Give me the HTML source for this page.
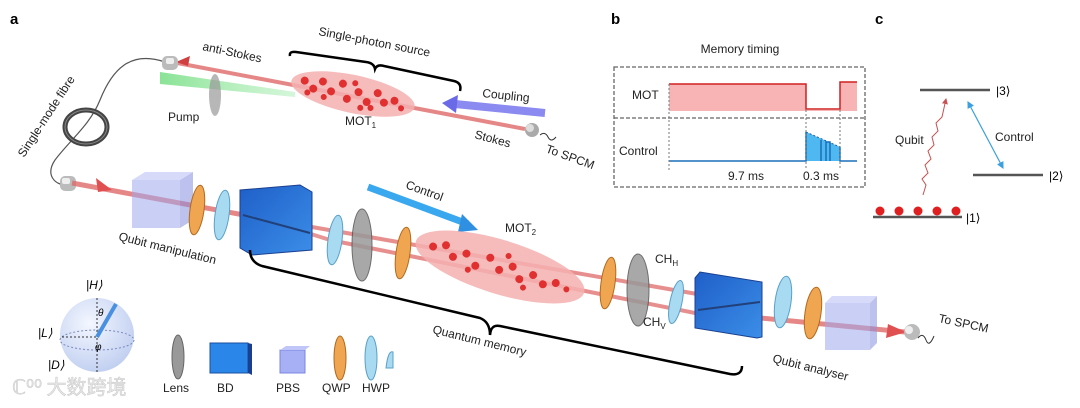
<!DOCTYPE html>
<html><head><meta charset="utf-8"><style>
html,body{margin:0;padding:0;background:#fff;}
svg{display:block;font-family:"Liberation Sans",Arial,sans-serif;}
</style></head><body>
<svg width="1080" height="408" viewBox="0 0 1080 408" xmlns="http://www.w3.org/2000/svg">
<defs>
<linearGradient id="bd" x1="0" y1="0" x2="1" y2="1"><stop offset="0" stop-color="#1f5fc8"/><stop offset="1" stop-color="#3b8ee8"/></linearGradient>
<radialGradient id="sph" cx="0.4" cy="0.35" r="0.7"><stop offset="0" stop-color="#f2f6ff"/><stop offset="1" stop-color="#b8c8ee"/></radialGradient>
<linearGradient id="gr" x1="0" y1="0" x2="1" y2="0"><stop offset="0" stop-color="#7de08a" stop-opacity="0.9"/><stop offset="1" stop-color="#b8f0c0" stop-opacity="0.6"/></linearGradient>
<marker id="ar" markerWidth="6" markerHeight="6" refX="5" refY="3" orient="auto"><path d="M0,0L6,3L0,6z" fill="#3aa0e0"/></marker>
<marker id="al" markerWidth="6" markerHeight="6" refX="1" refY="3" orient="auto"><path d="M6,0L0,3L6,6z" fill="#3aa0e0"/></marker>
<marker id="ar2" markerWidth="6" markerHeight="6" refX="5" refY="3" orient="auto"><path d="M0,0L6,3L0,6z" fill="#c85050"/></marker>
</defs>
<g font-weight="bold" font-size="15"><text x="10" y="24">a</text><text x="611" y="24">b</text><text x="875" y="24">c</text></g>

<!-- fibre -->
<path d="M165,62 C130,50 112,70 100,100 C90,125 70,140 55,160 C45,175 55,185 66,185" fill="none" stroke="#555" stroke-width="1.2"/>
<ellipse cx="86" cy="127" rx="21" ry="17" fill="none" stroke="#444" stroke-width="5"/>
<ellipse cx="86" cy="127" rx="21" ry="17" fill="none" stroke="#888" stroke-width="1"/>
<text transform="translate(24,158) rotate(-57)" font-size="12" fill="#222">Single-mode fibre</text>

<!-- top beam -->
<line x1="172" y1="62" x2="525" y2="129" stroke="#e06a6a" stroke-width="4" opacity="0.8"/>
<path d="M176,62 L190,56 L188,66z" fill="#d04040"/>
<polygon points="160,72 295,92 295,97 160,84" fill="url(#gr)"/>
<ellipse cx="215" cy="95" rx="6" ry="21" fill="#999" opacity="0.7"/>
<text x="168" y="121" font-size="12" fill="#222">Pump</text>
<text transform="translate(202,50) rotate(12)" font-size="12" fill="#222">anti-Stokes</text>
<g transform="translate(353,94) rotate(12)"><ellipse rx="63" ry="19" fill="#f5b0b0" opacity="0.85"/>
<g fill="#e03030"><circle cx="-50" cy="-3" r="4"/><circle cx="-40" cy="3" r="4"/><circle cx="-32" cy="-6" r="4"/><circle cx="-22" cy="2" r="4"/><circle cx="-12" cy="-8" r="4"/><circle cx="-5" cy="6" r="4"/><circle cx="5" cy="-3" r="4"/><circle cx="15" cy="5" r="4"/><circle cx="24" cy="-6" r="4"/><circle cx="32" cy="2" r="4"/><circle cx="42" cy="-2" r="4"/><circle cx="50" cy="4" r="3"/><circle cx="-28" cy="9" r="3"/><circle cx="0" cy="-11" r="3"/><circle cx="20" cy="10" r="3"/><circle cx="-45" cy="8" r="3"/><circle cx="10" cy="12" r="3"/></g></g>
<text x="345" y="125" font-size="12" fill="#222">MOT<tspan font-size="8" dy="3">1</tspan></text>
<path d="M290,56 Q289,51 296,52 L366,62 Q374,63 375,69 Q377,64 384,66 L454,81 Q462,83 460,91" fill="none" stroke="#000" stroke-width="2.5"/>
<text transform="translate(318,35) rotate(11)" font-size="12" fill="#222">Single-photon source</text>
<line x1="545" y1="113" x2="455" y2="104" stroke="#8a8af0" stroke-width="8"/>
<path d="M442,103 L458,95 L456,113z" fill="#6a6ae8"/>
<text transform="translate(482,97) rotate(6)" font-size="12" fill="#222">Coupling</text>
<text transform="translate(474,138) rotate(15)" font-size="12" fill="#222">Stokes</text>
<circle cx="532" cy="130" r="7" fill="#aaa"/><circle cx="530" cy="128" r="4" fill="#ddd"/>
<path d="M540,135 q5,-4 8,2 t8,0" fill="none" stroke="#333" stroke-width="1"/>
<text transform="translate(545,152) rotate(20)" font-size="12" fill="#222">To SPCM</text>
<rect x="162" y="56" width="16" height="14" rx="5" fill="#bbb"/><rect x="166" y="58" width="8" height="6" rx="2" fill="#eee"/>

<!-- bottom beam -->
<rect x="60" y="176" width="16" height="15" rx="5" fill="#bbb"/><rect x="62" y="178" width="8" height="6" rx="2" fill="#eee"/>
<line x1="72" y1="183" x2="260" y2="218" stroke="#e06a6a" stroke-width="5" opacity="0.8"/>
<line x1="260" y1="218" x2="720" y2="298" stroke="#e06a6a" stroke-width="4" opacity="0.75"/>
<line x1="260" y1="218" x2="330" y2="240" stroke="#e06a6a" stroke-width="4" opacity="0.7"/>
<line x1="330" y1="240" x2="720" y2="318" stroke="#e06a6a" stroke-width="4" opacity="0.75"/>
<line x1="740" y1="316" x2="905" y2="332" stroke="#e06a6a" stroke-width="5" opacity="0.8"/>
<path d="M888,324 L906,332 L886,338z" fill="#e05050"/>
<path d="M96,178 L112,190 L98,192z" fill="#e05050"/>
<!-- components -->
<g opacity="0.55"><rect x="132" y="180" width="48" height="48" fill="#9fa8f0"/><polygon points="132,180 145,172 193,172 180,180" fill="#b8bff5"/><polygon points="180,180 193,172 193,220 180,228" fill="#8890e0"/></g>
<ellipse cx="197" cy="210" rx="7" ry="25" fill="#f0a550" stroke="#b06a20" transform="rotate(8 197 210)"/>
<ellipse cx="222" cy="215" rx="7" ry="25" fill="#a8daf2" stroke="#5aa0c8" transform="rotate(8 222 215)"/>
<polygon points="240,190 300,185 312,192 312,250 252,255 240,248" fill="url(#bd)" stroke="#1a3f90"/>
<line x1="243" y1="215" x2="310" y2="233" stroke="#22407a" stroke-width="2"/>
<ellipse cx="335" cy="240" rx="7" ry="25" fill="#a8daf2" stroke="#5aa0c8" transform="rotate(8 335 240)"/>
<ellipse cx="362" cy="245" rx="10" ry="36" fill="#999" stroke="#555" opacity="0.85"/>
<ellipse cx="403" cy="253" rx="7" ry="26" fill="#f0a550" stroke="#b06a20" transform="rotate(8 403 253)"/>
<line x1="368" y1="187" x2="468" y2="224" stroke="#3aa8ee" stroke-width="7"/>
<path d="M478,230 L462,214 L458,232z" fill="#2f8fe0"/>
<text transform="translate(405,188) rotate(20)" font-size="12" fill="#222">Control</text>
<g transform="translate(500,267) rotate(17)"><ellipse rx="88" ry="27" fill="#f5b0b0" opacity="0.85"/>
<g fill="#e03030"><circle cx="-70" cy="0" r="4"/><circle cx="-58" cy="-5" r="4"/><circle cx="-48" cy="4" r="4"/><circle cx="-36" cy="-3" r="4"/><circle cx="-24" cy="6" r="4"/><circle cx="-12" cy="-6" r="4"/><circle cx="0" cy="3" r="4"/><circle cx="12" cy="-4" r="4"/><circle cx="22" cy="6" r="4"/><circle cx="34" cy="-2" r="4"/><circle cx="46" cy="4" r="4"/><circle cx="58" cy="-1" r="4"/><circle cx="70" cy="2" r="3"/><circle cx="-30" cy="12" r="3"/><circle cx="5" cy="-13" r="3"/><circle cx="28" cy="13" r="3"/></g></g>
<text x="505" y="232" font-size="12" fill="#222">MOT<tspan font-size="8" dy="3">2</tspan></text>
<ellipse cx="608" cy="283" rx="7" ry="26" fill="#f0a550" stroke="#b06a20" transform="rotate(8 608 283)"/>
<ellipse cx="638" cy="290" rx="11" ry="36" fill="#999" stroke="#555" opacity="0.85"/>
<ellipse cx="676" cy="302" rx="6" ry="22" fill="#a8daf2" stroke="#5aa0c8" transform="rotate(12 676 302)"/>
<text x="655" y="263" font-size="12" fill="#222">CH<tspan font-size="8" dy="3">H</tspan></text>
<text x="643" y="326" font-size="12" fill="#222">CH<tspan font-size="8" dy="3">V</tspan></text>
<polygon points="695,278 700,272 762,282 762,337 757,338 695,328" fill="url(#bd)" stroke="#1a3f90"/>
<line x1="698" y1="310" x2="760" y2="302" stroke="#22407a" stroke-width="2"/>
<ellipse cx="783" cy="302" rx="8" ry="26" fill="#a8daf2" stroke="#5aa0c8" transform="rotate(8 783 302)"/>
<ellipse cx="813" cy="313" rx="8" ry="26" fill="#f0a550" stroke="#b06a20" transform="rotate(8 813 313)"/>
<g opacity="0.55"><rect x="825" y="303" width="45" height="47" fill="#9fa8f0"/><polygon points="825,303 832,296 877,296 870,303" fill="#b8bff5"/><polygon points="870,303 877,296 877,343 870,350" fill="#8890e0"/></g>
<circle cx="912" cy="332" r="8" fill="#bbb"/><circle cx="909" cy="330" r="4" fill="#eee"/>
<path d="M918,338 q5,-6 8,2 t8,-4" fill="none" stroke="#333" stroke-width="1"/>
<text transform="translate(938,322) rotate(12)" font-size="12" fill="#222">To SPCM</text>
<text transform="translate(118,240) rotate(14)" font-size="12" fill="#222">Qubit manipulation</text>
<text transform="translate(432,333) rotate(14)" font-size="12" fill="#222">Quantum memory</text>
<text transform="translate(772,362) rotate(14)" font-size="12" fill="#222">Qubit analyser</text>
<path d="M250,250 Q250,262 262,266 L480,318 Q490,322 490,335 Q491,324 500,326 L730,374 Q742,376 742,366" fill="none" stroke="#000" stroke-width="2.5"/>

<!-- Bloch sphere -->
<circle cx="97" cy="335" r="37" fill="url(#sph)" opacity="0.9"/>
<ellipse cx="97" cy="340" rx="37" ry="10" fill="none" stroke="#7a8ac0" stroke-dasharray="2,2"/>
<line x1="97" y1="298" x2="97" y2="372" stroke="#333" stroke-dasharray="2,2"/>
<line x1="62" y1="337" x2="97" y2="337" stroke="#333" stroke-dasharray="2,2"/>
<line x1="97" y1="337" x2="116" y2="304" stroke="#4a90e0" stroke-width="4"/>
<text x="86" y="289" font-size="12" font-style="italic">|H⟩</text>
<text x="38" y="337" font-size="12" font-style="italic">|L⟩</text>
<text x="48" y="369" font-size="12" font-style="italic">|D⟩</text>
<text x="98" y="316" font-size="10" font-style="italic">θ</text>
<text x="95" y="350" font-size="10" font-style="italic">φ</text>
<!-- legend -->
<ellipse cx="178" cy="357" rx="6" ry="22" fill="#999" stroke="#666"/>
<rect x="210" y="343" width="38" height="30" fill="#2a86e8" stroke="#1a4fa0"/><polygon points="248,343 252,344 252,375 248,373" fill="#1a3f90"/>
<rect x="280" y="350" width="25" height="23" fill="#a8b0f5" stroke="#7c86e0"/><polygon points="280,350 286,346 310,346 305,350" fill="#c0c6f8"/>
<ellipse cx="340" cy="358" rx="6" ry="22" fill="#f0a550" stroke="#b06a20"/>
<ellipse cx="371" cy="358" rx="6" ry="22" fill="#a8daf2" stroke="#5aa0c8"/>
<path d="M386,368 Q388,350 393,352 L393,368z" fill="#a8daf2" stroke="#5aa0c8"/>
<g font-size="12" fill="#222"><text x="163" y="392">Lens</text><text x="217" y="392">BD</text><text x="276" y="392">PBS</text><text x="322" y="392">QWP</text><text x="362" y="392">HWP</text></g>
<text x="12" y="394" font-size="20" fill="#e8e8e8" stroke="#c8c8c8" stroke-width="0.5" font-family="'Noto Sans CJK SC',sans-serif">ℂ⁰⁰ 大数跨境</text>

<!-- panel b -->
<text x="740" y="53" font-size="12" text-anchor="middle" fill="#222">Memory timing</text>
<rect x="614" y="67" width="251" height="120" fill="none" stroke="#666" stroke-width="1.3" stroke-dasharray="4,2"/>
<line x1="614" y1="118" x2="865" y2="118" stroke="#666" stroke-width="1.3" stroke-dasharray="4,2"/>
<text x="632" y="99" font-size="12" fill="#222">MOT</text>
<text x="619" y="155" font-size="12" fill="#222">Control</text>
<path d="M669,111 L669,84 L806,84 L806,110 L840,110 L840,82 L857,82 L857,111z" fill="#f8b4b4"/>
<path d="M669,84 L806,84 L806,109 L840,109 L840,82 L857,82" fill="none" stroke="#d02020" stroke-width="1.5"/>
<path d="M806,161 L806,132 L840,147 L840,161z" fill="#4fb8f0"/>
<line x1="806" y1="132" x2="840" y2="147" stroke="#1a5fa0" stroke-dasharray="2,2"/>
<path d="M669,161 L806,161 L806,132 M821,161 L821,140 M826,161 L826,142 L830,142 L830,161 M840,147 L840,161 L857,161" fill="none" stroke="#1a6fb8" stroke-width="1.5"/>
<path d="M669,84 L669,170 M806,110 L806,170 M840,110 L840,170" stroke="#777" stroke-dasharray="2,2"/>
<text x="728" y="180" font-size="12" fill="#222">9.7 ms</text>
<text x="803" y="180" font-size="12" fill="#222">0.3 ms</text>

<!-- panel c -->
<line x1="920" y1="90" x2="990" y2="90" stroke="#555" stroke-width="2.5"/><text x="996" y="95" font-size="12">|3⟩</text>
<line x1="973" y1="175" x2="1043" y2="175" stroke="#555" stroke-width="2.5"/><text x="1049" y="180" font-size="12">|2⟩</text>
<line x1="873" y1="217" x2="962" y2="217" stroke="#555" stroke-width="2.5"/><text x="966" y="222" font-size="12">|1⟩</text>
<g fill="#e02020"><circle cx="880" cy="211" r="4.5"/><circle cx="899" cy="211" r="4.5"/><circle cx="918" cy="211" r="4.5"/><circle cx="937" cy="211" r="4.5"/><circle cx="956" cy="211" r="4.5"/></g>
<path d="M923,195 l3,-10 l-4,-6 l6,-6 l-3,-8 l6,-6 l-3,-8 l6,-6 l-2,-8 l6,-6 l-2,-8 l6,-6 l4,-18" fill="none" stroke="#c85050" stroke-width="1" marker-end="url(#ar2)"/>
<text x="895" y="144" font-size="12" fill="#222">Qubit</text>
<line x1="968" y1="102" x2="1003" y2="168" stroke="#3aa0e0" stroke-width="1.2" marker-start="url(#al)" marker-end="url(#ar)"/>
<text x="995" y="141" font-size="12" fill="#222">Control</text>
</svg>
</body></html>
